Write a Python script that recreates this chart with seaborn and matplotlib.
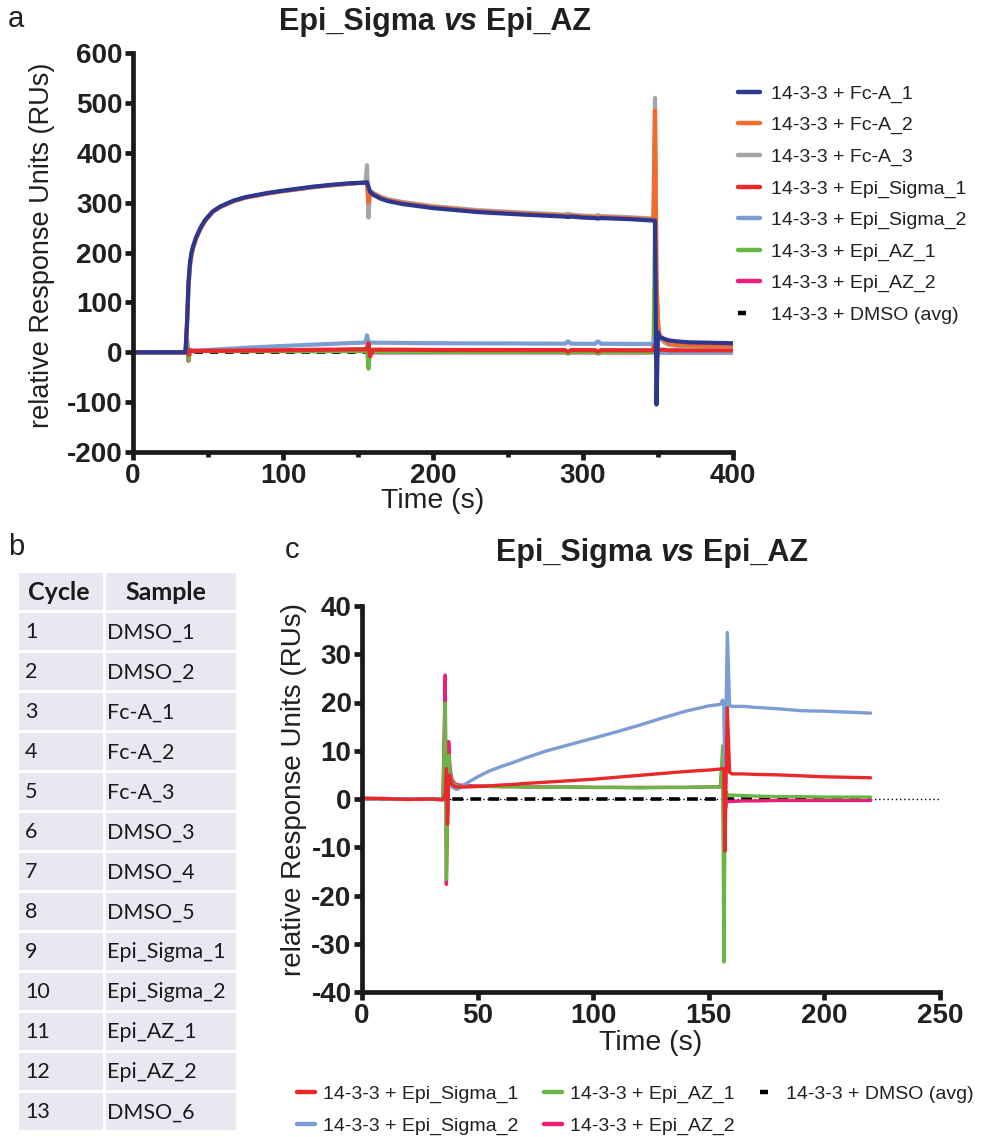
import matplotlib
matplotlib.use("Agg")
import matplotlib.pyplot as plt
import seaborn as sns
from matplotlib.lines import Line2D
from matplotlib.patches import Rectangle
from matplotlib.ticker import MultipleLocator

# ---------------- data: panel a (full sensorgram) ----------------
A_T = [0, 20, 34, 35, 36, 37, 38, 39, 40, 42, 45, 48, 53, 58, 67, 75, 89, 100, 110, 120,
       133, 145, 154, 155, 156, 157, 158, 160, 165, 170, 180, 190, 200, 215, 230, 260, 288, 290, 292, 300,
       308, 310, 312, 330, 347, 348, 349, 350, 351, 354, 357, 362, 370, 385, 400]
A_FCA_1 = [0, 0, 0, 0, 60, 140, 180, 200, 212, 230, 250, 265, 282, 292, 304, 311, 319, 324, 328, 332,
           336, 339, 340, 340, 341, 332, 322, 316, 308, 303, 297, 293, 289, 285, 281, 276, 272, 271, 272, 270,
           269, 268, 269, 267, 264, 264, -105, 40, 30, 27, 24, 22, 20, 19, 18]
A_FCA_2 = [0, 0, 0, 0, 55, 135, 176, 197, 209, 228, 248, 263, 281, 291, 303, 310, 318, 323, 327, 331,
           335, 338, 340, 340, 340, 300, 322, 318, 310, 305, 299, 295, 291, 287, 283, 278, 274, 273, 274, 272,
           271, 270, 271, 269, 266, 485, 150, 60, 35, 25, 18, 15, 14, 13, 13]
A_FCA_3 = [0, 0, 0, 0, 50, 130, 172, 195, 207, 227, 247, 263, 281, 291, 303, 310, 318, 323, 327, 331,
           335, 338, 340, 341, 375, 270, 324, 320, 312, 307, 301, 297, 293, 289, 285, 280, 276, 278, 276, 274,
           273, 275, 273, 271, 268, 510, 140, 50, 30, 20, 15, 13, 12, 12, 12]
A_SIG_1 = [0, 0, 0, 0, 6, -5, 4, 3, 2.5, 2.6, 2.8, 2.9, 3, 3.1, 3.3, 3.5, 3.8, 4.1, 4.5, 4.9,
           5.3, 5.8, 6, 6.1, 6.2, 18, -8, 5.2, 5.2, 5.1, 5, 4.8, 4.6, 4.5, 4.5, 4.4, 4.3, 1, 4.3, 4.2,
           4.2, 1, 4.2, 4, 4, 15, -5, 5, 5, 5, 4, 4, 4, 4, 4]
A_SIG_2 = [0, 0, 0, 0, 2, 1, 1.5, 2, 2, 2.5, 3.2, 4, 5, 6, 7.5, 9, 11, 12.6, 13.9, 15.3,
           16.8, 18.5, 19.3, 19.5, 34, 19.5, 19.3, 19.2, 19, 19, 18.7, 18.3, 18.2, 17.9, 17.8, 17.5, 17.2, 22, 17.2, 17,
           17, 22, 17, 16.8, 16.5, 30, -5, 0, 0, 0, 0, 0, 0, 0, 0]
A_AZ_1 = [0, 0, 0, 0, 20, -15, 3, 2.8, 2.5, 2.6, 2.6, 2.6, 2.6, 2.5, 2.5, 2.5, 2.4, 2.4, 2.4, 2.3,
          2.4, 2.4, 2.4, 2.4, 11, -33, 0.8, 0.8, 0.7, 0.6, 0.5, 0.5, 0.5, 0.4, 0.4, 0.4, 0.4, -3, 0.4, 0.3,
          0.3, -3, 0.3, 0.2, 0.2, 250, -10, 0, 0, 0, 0, 0, 0, 0, 0]
A_AZ_2 = [0, 0, 0, 0, 25.5, -17, 3.5, 3.2, 3, 2.9, 2.8, 2.7, 2.7, 2.6, 2.6, 2.5, 2.5, 2.4, 2.4, 2.4,
          2.4, 2.5, 2.5, 2.5, 8, -12, -0.5, -0.5, -0.4, -0.4, -0.3, -0.3, -0.3, -0.3, -0.3, -0.3, -0.3, -0.3, -0.3, -0.3,
          -0.3, -0.3, -0.3, -0.3, -0.3, 100, -5, -0.3, -0.3, -0.3, -0.3, -0.3, -0.3, -0.3, -0.3]
DMSO_T = [0, 37, 100, 157, 220]
DMSO_Y = [0, 0, 0, 0, 0]

# ---------------- data: panel c (zoom on epi samples) ----------------
C_T = [0, 10, 20, 30, 35, 36, 36.5, 37, 37.5, 38, 38.5, 39, 40, 41, 42, 45, 50, 55, 60, 65, 70, 80,
       90, 100, 110, 120, 130, 140, 150, 155, 156, 156.5, 157, 157.5, 158, 159, 160, 165, 170, 180,
       190, 200, 210, 220]
C_SIG_1 = [0.2, 0.1, -0.1, 0, -0.2, 1, 6.3, -5.2, 4.5, 5, 3.5, 3, 2.6, 2.5, 2.5, 2.5, 2.6, 2.7, 2.9, 3.0,
           3.2, 3.5, 3.8, 4.1, 4.5, 4.9, 5.3, 5.7, 6.0, 6.2, 6.3, 6.2, -10.8, 5, 18.9, 5.5, 5.2, 5.2,
           5.1, 5.0, 4.8, 4.6, 4.5, 4.4]
C_SIG_2 = [0, 0.1, 0, 0, 0, 0.5, 2, -1, 3, 3.5, 3, 2.5, 2.2, 2, 2.2, 3.2, 4.6, 5.8, 6.7, 7.5, 8.4, 10,
           11.3, 12.6, 13.9, 15.3, 16.8, 18.2, 19.3, 19.6, 20.5, 19.5, 0, 19.5, 34.5, 19.3, 19.2, 19.2,
           19, 18.7, 18.3, 18.2, 18, 17.8]
C_AZ_1 = [0, 0, 0, 0, 0, 19.9, -16.7, -4, 9.1, 6, 4.5, 3.5, 3, 2.8, 2.6, 2.6, 2.6, 2.6, 2.5, 2.5, 2.5,
          2.4, 2.5, 2.4, 2.4, 2.3, 2.4, 2.4, 2.5, 2.5, 11, -33.8, -5, 1.5, 0.8, 0.8, 0.8, 0.7, 0.6,
          0.5, 0.5, 0.4, 0.4, 0.4]
C_AZ_2 = [0, 0, 0, 0, 0, 25.7, -17.7, -3, 11.9, 7, 5, 4, 3.3, 3, 2.9, 2.8, 2.7, 2.7, 2.6, 2.6, 2.5,
          2.5, 2.5, 2.4, 2.4, 2.4, 2.4, 2.4, 2.5, 2.5, 8, -12, -3, -1, -0.6, -0.5, -0.5, -0.4, -0.4,
          -0.3, -0.3, -0.3, -0.3, -0.3]

# ---------------- labels / ticks ----------------
LABEL_FCA_1 = "14-3-3 + Fc-A_1"
LABEL_FCA_2 = "14-3-3 + Fc-A_2"
LABEL_FCA_3 = "14-3-3 + Fc-A_3"
LABEL_SIG_1 = "14-3-3 + Epi_Sigma_1"
LABEL_SIG_2 = "14-3-3 + Epi_Sigma_2"
LABEL_AZ_1 = "14-3-3 + Epi_AZ_1"
LABEL_AZ_2 = "14-3-3 + Epi_AZ_2"
LABEL_DMSO = "14-3-3 + DMSO (avg)"
A_XTICKS = [0, 100, 200, 300, 400]
A_YTICKS = [-200, -100, 0, 100, 200, 300, 400, 500, 600]
C_XTICKS = [0, 50, 100, 150, 200, 250]
C_YTICKS = [-40, -30, -20, -10, 0, 10, 20, 30, 40]
TABLE_CYCLE = ["1", "2", "3", "4", "5", "6", "7", "8", "9", "10", "11", "12", "13"]
TABLE_SAMPLE = ["DMSO_1", "DMSO_2", "Fc-A_1", "Fc-A_2", "Fc-A_3", "DMSO_3", "DMSO_4", "DMSO_5",
                "Epi_Sigma_1", "Epi_Sigma_2", "Epi_AZ_1", "Epi_AZ_2", "DMSO_6"]
TABLE_HEADER = ["Cycle", "Sample"]

COL_FCA_1 = "#2E3790"
COL_FCA_2 = "#F26A2C"
COL_FCA_3 = "#A3A5A8"
COL_SIG_1 = "#E8282B"
COL_SIG_2 = "#7B9DD4"
COL_AZ_1 = "#6AB645"
COL_AZ_2 = "#EC1E7A"
TXT = "#231F20"

sns.set_theme(style="ticks")
plt.rcParams["font.family"] = ["Liberation Sans", "DejaVu Sans"]
plt.rcParams["text.color"] = TXT

W, H = 987, 1137
fig = plt.figure(figsize=(W / 100, H / 100), dpi=100)
fig.patch.set_facecolor("white")


def fx(p):
    return p / W


def fy(p):
    return 1 - p / H


def style_axes(ax, xticks, yticks, xlim, ylim):
    sns.despine(ax=ax)
    ax.set_facecolor("white")
    ax.set_xlim(*xlim)
    ax.set_ylim(*ylim)
    ax.set_xticks(xticks)
    ax.set_yticks(yticks)
    ax.set_xticklabels([str(v) for v in xticks], fontweight="bold", fontsize=20, color=TXT)
    ax.set_yticklabels([str(v) for v in yticks], fontweight="bold", fontsize=20, color=TXT)
    for s in ("left", "bottom"):
        ax.spines[s].set_linewidth(3.4)
        ax.spines[s].set_color("#1A1A1A")
    ax.tick_params(axis="both", which="major", width=3.4, length=6, direction="out", color="#1A1A1A")
    ax.tick_params(axis="y", pad=1.5)
    ax.tick_params(axis="x", pad=2)
    ax.set_xlabel("")
    ax.set_ylabel("")


def draw(ax, t, y, color, lw, **kw):
    sns.lineplot(x=t, y=y, ax=ax, color=color, lw=lw, estimator=None, sort=False,
                 legend=False, **kw)


# ---------------- panel a ----------------
axA = fig.add_axes([fx(133), fy(452), fx(733) - fx(133), fy(53) - fy(452)])
draw(axA, DMSO_T, DMSO_Y, "black", 2.0, dashes=(3, 2.5))
seriesA = [(A_AZ_2, COL_AZ_2), (A_AZ_1, COL_AZ_1), (A_SIG_2, COL_SIG_2), (A_SIG_1, COL_SIG_1),
           (A_FCA_3, COL_FCA_3), (A_FCA_2, COL_FCA_2), (A_FCA_1, COL_FCA_1)]
for yv, col in seriesA:
    draw(axA, A_T, yv, col, 3.0)
style_axes(axA, A_XTICKS, A_YTICKS, (0, 400), (-200, 600))
axA.xaxis.set_minor_locator(MultipleLocator(50))
axA.tick_params(axis="x", which="minor", width=3.4, length=3.5, color="#1A1A1A")

# ---------------- panel c ----------------
axC = fig.add_axes([fx(362), fy(992), fx(940) - fx(362), fy(606) - fy(992)])
axC.axhline(0, color="black", lw=1.0, ls=(0, (1, 2)), zorder=0.5)
draw(axC, DMSO_T, DMSO_Y, "black", 2.6, dashes=(3, 2))
seriesC = [(C_AZ_2, COL_AZ_2), (C_AZ_1, COL_AZ_1), (C_SIG_2, COL_SIG_2), (C_SIG_1, COL_SIG_1)]
for yv, col in seriesC:
    draw(axC, C_T, yv, col, 2.4)
style_axes(axC, C_XTICKS, C_YTICKS, (0, 250), (-40, 40))

# ---------------- titles, labels ----------------
renderer = fig.canvas.get_renderer()


def mixed_title(xc, yc, fs):
    parts = [("Epi_Sigma", "normal"), ("vs", "italic"), ("Epi_AZ", "normal")]
    sp = fig.text(0, 0, "a a", fontsize=fs, fontweight="bold")
    sp2 = fig.text(0, 0, "aa", fontsize=fs, fontweight="bold")
    space = sp.get_window_extent(renderer).width - sp2.get_window_extent(renderer).width
    sp.remove()
    sp2.remove()
    texts = []
    widths = []
    for s, st in parts:
        t = fig.text(0, fy(yc), s, fontsize=fs, fontweight="bold", fontstyle=st, va="center", ha="left")
        texts.append(t)
        widths.append(t.get_window_extent(renderer).width)
    total = sum(widths) + space * (len(parts) - 1)
    x = xc - total / 2
    for t, w in zip(texts, widths):
        t.set_x(fx(x))
        x += w + space


mixed_title(435, 22, 22)
mixed_title(652, 553, 22)

fig.text(fx(42), fy(245), "relative Response Units (RUs)", rotation=90, ha="center", va="center", fontsize=19.5)
fig.text(fx(433), fy(501), "Time (s)", ha="center", va="center", fontsize=20.5)
fig.text(fx(294), fy(790), "relative Response Units (RUs)", rotation=90, ha="center", va="center", fontsize=20)
fig.text(fx(651), fy(1043), "Time (s)", ha="center", va="center", fontsize=20.5)

fig.text(fx(8), fy(19), "a", ha="left", va="center", fontsize=21)
fig.text(fx(8), fy(547), "b", ha="left", va="center", fontsize=21)
fig.text(fx(285), fy(550), "c", ha="left", va="center", fontsize=21)

# ---------------- legends ----------------
labelsA = [LABEL_FCA_1, LABEL_FCA_2, LABEL_FCA_3, LABEL_SIG_1, LABEL_SIG_2, LABEL_AZ_1, LABEL_AZ_2, LABEL_DMSO]
colsA = [COL_FCA_1, COL_FCA_2, COL_FCA_3, COL_SIG_1, COL_SIG_2, COL_AZ_1, COL_AZ_2]
handlesA = [Line2D([], [], color=c, lw=3.2) for c in colsA]
handlesA.append(Line2D([], [], color="black", lw=3.2, dashes=(1.8, 20)))
fig.legend(handlesA, labelsA, loc="upper left", bbox_to_anchor=(fx(738), fy(85)), frameon=False,
           fontsize=14, handlelength=1.15, handletextpad=0.55, labelspacing=0.71, borderpad=0,
           borderaxespad=0)

labelsC = [LABEL_SIG_1, LABEL_SIG_2, LABEL_AZ_1, LABEL_AZ_2, LABEL_DMSO]
colsC = [COL_SIG_1, COL_SIG_2, COL_AZ_1, COL_AZ_2]
handlesC = [Line2D([], [], color=c, lw=3.2) for c in colsC]
handlesC.append(Line2D([], [], color="black", lw=3.2, dashes=(1.8, 20)))
fig.legend(handlesC, labelsC, loc="upper left", ncol=3, bbox_to_anchor=(fx(297), fy(1085)), frameon=False,
           fontsize=14, handlelength=0.95, handletextpad=0.4, labelspacing=0.76, columnspacing=1.3,
           borderpad=0, borderaxespad=0)

# ---------------- panel b: table ----------------
axT = fig.add_axes([fx(19), fy(1133), fx(236) - fx(19), fy(573) - fy(1133)])
axT.set_xlim(0, 217)
axT.set_ylim(560, 0)
axT.axis("off")
CELL = "#E8E8F2"
col_x = [(0, 84), (87, 217)]
row_h = 37
n_rows = len(TABLE_CYCLE) + 1
for r in range(n_rows):
    y0 = 40 * r
    for (x0, x1) in col_x:
        axT.add_patch(Rectangle((x0, y0), x1 - x0, row_h, facecolor=CELL, edgecolor="none"))
axT.text(9, row_h / 2 + 1, TABLE_HEADER[0], fontsize=18, fontweight="bold", family="Lato", va="center", ha="left", color="#1A1A1A")
axT.text(106, row_h / 2 + 1, TABLE_HEADER[1], fontsize=18, fontweight="bold", family="Lato", va="center", ha="left", color="#1A1A1A")
for i, (c, s) in enumerate(zip(TABLE_CYCLE, TABLE_SAMPLE)):
    yc = 40 * (i + 1) + row_h / 2 + 1
    axT.text(6, yc, c, fontsize=15.5, family="Lato", va="center", ha="left", color="#1A1A1A")
    axT.text(88, yc, s, fontsize=15.5, family="Lato", va="center", ha="left", color="#1A1A1A")

fig.savefig("out.png", dpi=100)
